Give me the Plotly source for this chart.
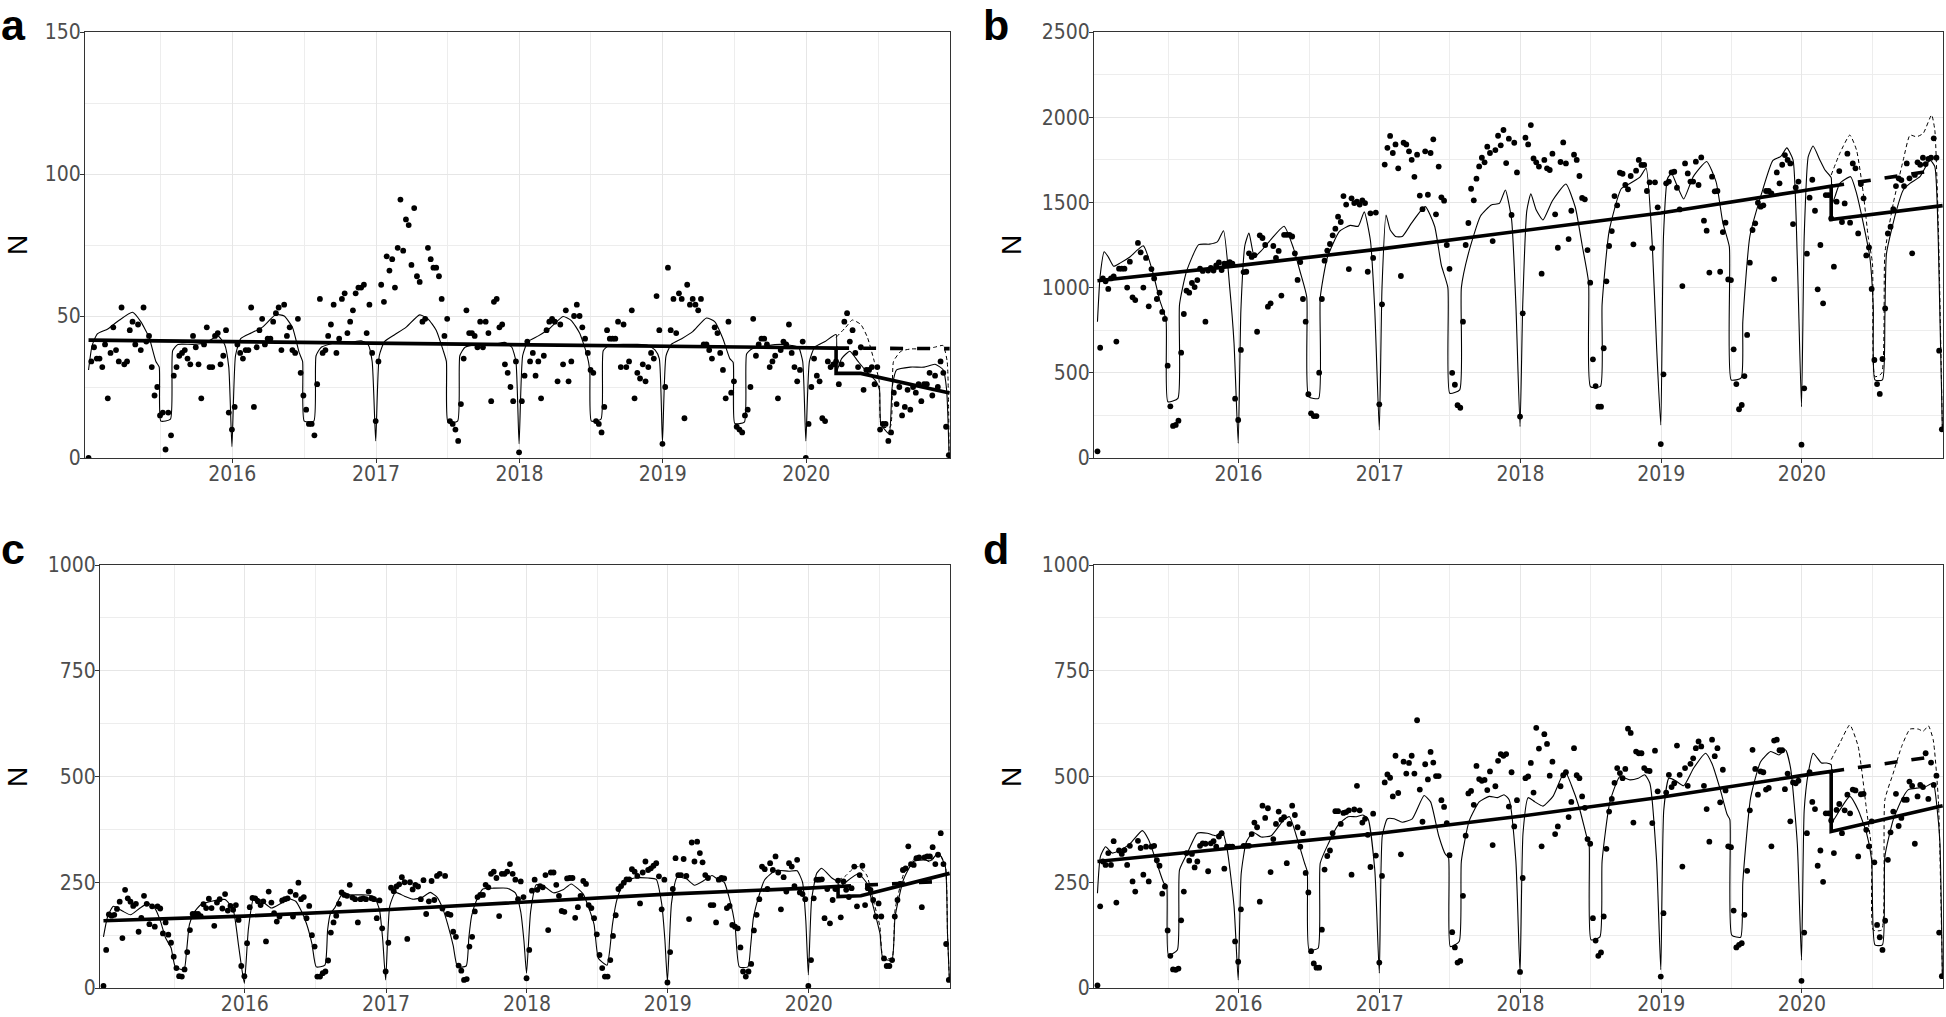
import pandas as pd
import plotly.graph_objects as go

# ---------------- weekly observed counts (one list per panel and year) ----------------
a_2015 = [0, 34, 39, 35, 35, 32, 40, 21, 37, 46, 38, 34, 53, 33, 34, 45, 48, 40, 47, 38, 53, 41, 43, 32, 22, 25,
          15, 16, 3, 16, 8, 29, 32, 36, 37, 38, 35, 33, 43, 39, 33, 21, 40, 46, 32, 32, 43, 44, 33, 36, 45, 16]
a_2016 = [10, 18, 40, 37, 35, 38, 38, 53, 18, 39, 45, 49, 40, 42, 42, 48, 51, 53, 38, 54, 43, 46, 38, 37, 49, 30,
          22, 17, 12, 12, 8, 26, 56, 37, 38, 43, 47, 54, 37, 42, 56, 58, 44, 48, 52, 58, 60, 60, 61, 44, 54, 37]
a_2017 = [13, 34, 61, 55, 71, 66, 70, 60, 74, 91, 73, 84, 82, 68, 88, 64, 62, 48, 49, 74, 70, 67, 67, 64, 56, 43,
          49, 13, 12, 10, 6, 19, 35, 52, 44, 44, 43, 39, 48, 39, 48, 44, 20, 55, 56, 46, 47, 33, 30, 25, 20, 34]
a_2018 = [2, 20, 29, 41, 34, 37, 29, 34, 21, 36, 45, 48, 49, 48, 27, 47, 33, 52, 27, 34, 50, 54, 50, 46, 42, 37,
          31, 30, 13, 12, 9, 18, 45, 42, 42, 42, 48, 32, 47, 32, 34, 52, 21, 30, 28, 33, 27, 32, 37, 35, 57, 45]
a_2019 = [5, 25, 67, 45, 56, 44, 58, 56, 14, 61, 54, 56, 54, 52, 56, 40, 40, 38, 35, 46, 44, 37, 31, 21, 48, 23,
          27, 11, 10, 9, 15, 17, 25, 49, 36, 40, 42, 42, 40, 32, 34, 36, 21, 38, 41, 40, 47, 37, 32, 27, 31, 41]
a_2020 = [0, 12, 25, 35, 29, 27, 14, 13, 34, 32, 33, 34, 26, 33, 48, 51, 41, 45, 37, 32, 39, 24, 31, 31, 32, 26,
          32, 10, 12, 12, 6, 9, 23, 19, 25, 15, 18, 24, 17, 25, 23, 26, 20, 26, 26, 30, 22, 29, 25, 34, 30, 11, 1]

b_2015 = [39, 647, 1054, 1037, 992, 1054, 1066, 683, 1111, 1111, 1111, 1000, 1152, 943, 927, 1262, 1207, 1000,
          1174, 890, 1109, 1054, 933, 970, 857, 816, 542, 303, 188, 194, 219, 618, 845, 982, 970, 1027, 1003,
          1044, 1111, 1098, 800, 1100, 1115, 1100, 1130, 1148, 1103, 1140, 1140, 1150, 1140, 348]
b_2016 = [223, 634, 1091, 1093, 1201, 1180, 1190, 741, 1307, 1291, 1250, 888, 908, 1244, 1174, 1215, 953, 1310,
          1310, 1310, 1300, 1200, 1045, 1150, 933, 800, 374, 262, 246, 246, 501, 933, 1158, 1217, 1256, 1307,
          1346, 1416, 1385, 1537, 1487, 1109, 1524, 1496, 1504, 1487, 1512, 1496, 1093, 1436, 1174, 1440]
b_2017 = [315, 902, 1722, 1820, 1890, 1790, 1840, 1700, 1068, 1850, 1840, 1800, 1750, 1650, 1780, 1540, 1460,
          1800, 1545, 1790, 1870, 1430, 1710, 1530, 1510, 1250, 1110, 500, 430, 310, 295, 800, 1250, 1379, 1580,
          1512, 1639, 1711, 1762, 1735, 1827, 1790, 1273, 1807, 1891, 1835, 1925, 1731, 1874, 1426, 1850, 1676]
b_2018 = [243, 849, 1880, 1840, 1954, 1758, 1735, 1710, 1082, 1749, 1700, 1690, 1786, 1430, 1234, 1737, 1852,
          1729, 1285, 1451, 1780, 1749, 1655, 1526, 1518, 1220, 1029, 579, 422, 301, 301, 644, 1037, 1244, 1332,
          1537, 1483, 1674, 1668, 1602, 1577, 1655, 1254, 1686, 1749, 1720, 1720, 1567, 1618, 1232, 1618, 1471]
b_2019 = [82, 491, 1612, 1622, 1676, 1680, 1586, 1459, 1009, 1729, 1670, 1622, 1622, 1739, 1602, 1764, 1393,
          1334, 1088, 1651, 1565, 1567, 1093, 1326, 1381, 1048, 1044, 638, 434, 286, 311, 481, 722, 1146, 1338,
          1377, 1498, 1475, 1483, 1567, 1567, 1553, 1050, 1676, 1612, 1721, 1778, 1749, 1729, 1373, 1588, 1622]
b_2020 = [78, 409, 1199, 1528, 1633, 1451, 990, 1250, 908, 1543, 1543, 1406, 1123, 1504, 1684, 1385, 1494, 1786,
          1381, 1729, 1700, 1318, 1608, 1524, 1189, 1236, 992, 575, 434, 376, 581, 878, 1318, 1357, 1461, 1596,
          1641, 1631, 1596, 1729, 1641, 1201, 1661, 1735, 1721, 1762, 1725, 1755, 1762, 1876, 1762, 630, 168]

c_2015 = [5, 90, 174, 171, 173, 187, 204, 118, 232, 212, 204, 194, 199, 133, 166, 218, 199, 151, 193, 145, 193,
          188, 129, 155, 126, 107, 74, 47, 28, 27, 44, 85, 137, 175, 175, 175, 170, 198, 189, 211, 189, 147, 202,
          210, 188, 222, 183, 194, 185, 196, 161, 52]
c_2016 = [28, 106, 191, 213, 212, 205, 196, 205, 110, 228, 202, 177, 157, 169, 207, 210, 212, 228, 169, 220, 249,
          210, 215, 165, 194, 125, 98, 27, 27, 35, 39, 65, 131, 155, 171, 199, 226, 220, 218, 244, 214, 210, 155,
          210, 212, 210, 228, 212, 210, 165, 207, 141]
c_2017 = [39, 107, 237, 229, 240, 245, 262, 250, 116, 250, 233, 244, 240, 210, 255, 175, 205, 253, 208, 265, 270,
          188, 265, 175, 173, 133, 121, 53, 41, 19, 21, 98, 121, 181, 215, 220, 220, 244, 238, 270, 275, 260, 170,
          270, 270, 275, 293, 270, 256, 210, 252, 215]
c_2018 = [23, 90, 230, 256, 232, 241, 238, 267, 137, 273, 273, 244, 218, 182, 180, 259, 260, 260, 166, 191, 218,
          253, 246, 196, 189, 165, 127, 78, 47, 27, 27, 66, 123, 172, 234, 241, 249, 257, 257, 281, 275, 265, 200,
          273, 299, 279, 283, 289, 295, 264, 186, 256]
c_2019 = [13, 85, 234, 307, 267, 267, 305, 265, 163, 344, 299, 346, 319, 297, 267, 260, 196, 196, 155, 256, 260,
          259, 189, 194, 149, 145, 141, 96, 39, 27, 39, 57, 136, 173, 210, 287, 281, 234, 295, 279, 311, 273, 186,
          262, 228, 295, 287, 241, 303, 226, 222, 210]
c_2020 = [5, 66, 212, 256, 256, 257, 165, 234, 153, 208, 234, 254, 167, 252, 232, 215, 236, 287, 193, 267, 289,
          196, 236, 232, 208, 169, 200, 169, 70, 52, 52, 66, 169, 208, 246, 279, 283, 335, 293, 291, 307, 309, 191,
          309, 311, 311, 333, 293, 315, 366, 293, 104, 19]

d_2015 = [6, 193, 299, 291, 319, 291, 347, 202, 325, 317, 326, 291, 336, 252, 228, 348, 331, 268, 334, 252, 334,
          336, 302, 289, 223, 240, 136, 76, 44, 43, 46, 160, 228, 319, 301, 317, 285, 299, 336, 342, 341, 276, 342,
          347, 334, 358, 366, 282, 334, 334, 334, 110]
d_2016 = [62, 186, 336, 336, 336, 364, 391, 380, 204, 431, 402, 425, 274, 352, 388, 417, 398, 404, 295, 388, 431,
          409, 380, 334, 366, 272, 226, 87, 58, 48, 48, 138, 280, 312, 325, 366, 418, 418, 388, 414, 416, 420, 268,
          422, 478, 420, 391, 400, 362, 286, 412, 313]
d_2017 = [60, 265, 486, 505, 497, 453, 549, 461, 316, 535, 507, 532, 549, 507, 633, 469, 393, 529, 493, 558, 533,
          501, 501, 444, 428, 390, 314, 132, 96, 60, 64, 218, 360, 460, 466, 433, 525, 494, 490, 492, 468, 512, 338,
          477, 537, 553, 549, 553, 429, 510, 382, 444]
d_2018 = [38, 260, 496, 500, 532, 462, 615, 566, 335, 600, 577, 502, 535, 364, 382, 477, 503, 510, 404, 440, 567,
          503, 496, 453, 426, 352, 341, 165, 112, 76, 84, 169, 329, 417, 447, 485, 520, 508, 496, 518, 613, 603, 391,
          559, 555, 555, 520, 514, 513, 390, 561, 465]
d_2019 = [27, 177, 462, 504, 475, 484, 573, 504, 287, 520, 478, 530, 543, 567, 583, 571, 478, 423, 346, 587, 548,
          567, 439, 516, 467, 335, 333, 183, 96, 102, 106, 173, 277, 420, 563, 518, 457, 512, 510, 469, 473, 335, 585,
          587, 562, 562, 470, 507, 394, 486, 484, 490]
d_2020 = [17, 131, 366, 510, 440, 423, 289, 325, 251, 413, 413, 396, 319, 421, 435, 366, 420, 457, 413, 469, 467,
          311, 458, 459, 374, 335, 394, 297, 149, 120, 90, 159, 303, 368, 417, 459, 383, 402, 445, 445, 488, 478, 341,
          453, 480, 475, 555, 447, 533, 480, 502, 131, 28]

# ---------------- fitted seasonal model (thin line), knots in weeks after 31 Dec of previous year ----------------
A_FIT_WEEKS = [0, 1.3, 3.2, 7, 11, 16, 19, 22, 24.5, 25.7, 26.3, 29.8, 30.6, 32.5, 38, 43, 47, 49.5, 51]
a_fit_2015 = [31, 39.6, 43.7, 45.4, 48.4, 51.3, 48, 42.5, 34, 32, 13, 13.7, 37.8, 40, 40, 40.7, 43, 40, 32]
a_fit_2016 = [4, 36, 42, 44, 46, 50.5, 50, 46, 37, 34, 13, 13, 36, 39, 40.7, 40.7, 41.3, 40, 34]
a_fit_2017 = [6, 36, 41, 43.5, 46, 50.4, 49, 45, 38, 34, 12.6, 13, 36, 39, 40, 40, 40.7, 39, 34]
a_fit_2018 = [5, 36, 41, 43, 45.5, 49.8, 48.4, 44, 37, 31, 13, 13.7, 37.8, 39.5, 40, 40, 39.6, 38, 35]
a_fit_2019 = [5.5, 36, 40, 42, 44.5, 49.3, 48, 42, 35, 33.7, 12.2, 12.6, 36.6, 38.4, 39.5, 40, 39.6, 39, 34]
a_fit20_weeks = [0, 1.3, 3.2, 7, 11]
a_fit_2020 = [6, 34, 39, 41, 43.5]
a_post_weeks = [11, 13, 16, 19, 22, 25.5, 26.8, 27.3, 30.3, 31.4, 33, 38, 43, 47, 50, 51.2, 52.1]
a_post_2020 = [30, 35, 37.6, 34, 30.5, 27, 24, 12, 8.5, 25, 31, 32, 32, 33, 31, 24, 1]
a_cf_weeks = [11, 14.5, 16.9, 20, 22.4, 24.9, 26.7, 27.5, 30.7, 31.9, 34.6, 38.3, 43.2, 46.8, 49.9, 51.4, 52.1]
a_cf_2020 = [42.5, 46, 48.6, 47, 42.5, 34, 27, 11, 11, 34, 37.6, 38.4, 38.4, 39, 39.6, 34, 1]

B_FIT_WEEKS = [0, 1, 2.5, 4, 6, 8.5, 12, 17, 20.5, 23, 25.4, 26.1, 29.8, 30.4, 33, 37.5, 41.5, 44.5, 46.7, 49, 50.6]
b_fit_2015 = [800, 1070, 1210, 1180, 1125, 1145, 1180, 1245, 1090, 930, 810, 330, 350, 900, 1095, 1252, 1255, 1270, 1334, 1000, 673]
b_fit_2016 = [86, 869, 1250, 1320, 1181, 1215, 1280, 1360, 1230, 1090, 945, 360, 350, 940, 1175, 1330, 1365, 1360, 1445, 1275, 869]
b_fit_2017 = [164, 1000, 1426, 1340, 1300, 1300, 1380, 1475, 1360, 1130, 1000, 380, 400, 1000, 1200, 1420, 1485, 1494, 1573, 1400, 900]
b_fit_2018 = [184, 900, 1450, 1550, 1455, 1397, 1510, 1608, 1470, 1250, 1030, 418, 420, 900, 1330, 1580, 1618, 1650, 1700, 1250, 650]
b_fit_2019 = [194, 1300, 1640, 1670, 1600, 1520, 1650, 1740, 1620, 1380, 1240, 458, 470, 800, 1300, 1560, 1745, 1770, 1820, 1750, 1162]
b_fit20_weeks = [0, 1, 2.5, 4.3, 6.8, 8.7, 11]
b_fit_2020 = [301, 1300, 1768, 1831, 1749, 1690, 1645]
b_post_weeks = [11, 12.4, 14.2, 18.2, 20.4, 22.9, 25.3, 26.6, 27.2, 30, 30.9, 31.5, 35.2, 37.7, 40.2, 43.9, 47.6, 49.4, 50.7, 52.2]
b_post_2020 = [1475, 1534, 1612, 1651, 1553, 1377, 1181, 888, 458, 458, 830, 1201, 1455, 1573, 1612, 1651, 1749, 1710, 1260, 164]
b_cf_weeks = [11, 14.2, 17.9, 20.4, 22.9, 24.7, 26.3, 27.2, 29.7, 30.9, 34, 37.7, 40.2, 42.6, 45.1, 48.2, 49.4, 50.7, 52.2]
b_cf_2020 = [1661, 1788, 1895, 1807, 1553, 1299, 1142, 477, 497, 1201, 1494, 1749, 1895, 1885, 1905, 2013, 1924, 1357, 164]

C_FIT_WEEKS = [0, 1.5, 3.6, 7, 10, 13.5, 16.5, 19, 21, 23, 25, 26.6, 29.8, 30.8, 31.8, 33.5, 36, 40, 45, 48, 50, 51.2]
c_fit_2015 = [121, 168, 193, 182, 173, 189, 200, 189, 160, 118, 95, 50, 43, 90, 150, 178, 197, 205, 209, 185, 100, 45]
c_fit_2016 = [11, 140, 216, 203, 189, 200, 211, 205, 183, 152, 105, 50, 54, 137, 175, 190, 220, 220, 220, 216, 185, 114]
c_fit_2017 = [19, 193, 226, 217, 210, 214, 226, 215, 190, 150, 100, 50, 52, 120, 170, 205, 234, 236, 236, 225, 180, 110]
c_fit_2018 = [35, 180, 244, 238, 225, 232, 246, 235, 222, 190, 150, 70, 54, 90, 150, 210, 250, 260, 260, 257, 200, 114]
c_fit_2019 = [15, 200, 262, 258, 243, 254, 266, 255, 250, 210, 150, 50, 50, 100, 165, 210, 256, 278, 276, 277, 250, 160]
c_fit20_weeks = [0, 1.2, 3.1, 4.9, 8.7, 11]
c_fit_2020 = [31, 208, 271, 283, 260, 250]
c_post_weeks = [11, 13.6, 18.5, 21.6, 24, 26.5, 27.6, 30.9, 32.1, 35.2, 38.9, 42.6, 45.1, 48.2, 50.7, 51.5, 52.2]
c_post_2020 = [235, 249, 270, 248, 193, 129, 70, 66, 169, 256, 299, 303, 301, 319, 287, 129, 19]
c_cf_weeks = [11, 13.6, 16, 18.5, 21.6, 24, 26.5, 27.6, 30.9, 32.1, 35.2, 38.9, 42.6, 45.1, 48.2, 50.7, 51.5, 52.2]
c_cf_2020 = [255, 264, 279, 287, 267, 208, 145, 74, 70, 185, 268, 303, 305, 298, 319, 290, 129, 19]

D_FIT_WEEKS = [0, 1.1, 3, 5.5, 8.5, 12.2, 16.6, 19, 22, 24.6, 25.6, 26.3, 29.6, 30.4, 33.3, 37, 40.7, 43.8, 46.2, 48.1, 50.6]
d_fit_2015 = [224, 311, 334, 319, 326, 342, 372, 350, 295, 248, 244, 78, 90, 279, 319, 366, 366, 360, 370, 326, 193]
d_fit_2016 = [19, 270, 345, 368, 357, 360, 395, 405, 350, 295, 275, 90, 94, 295, 340, 385, 405, 405, 409, 400, 280]
d_fit_2017 = [35, 360, 400, 400, 392, 400, 455, 440, 360, 315, 311, 98, 110, 300, 395, 440, 453, 450, 457, 445, 300]
d_fit_2018 = [35, 366, 450, 440, 430, 453, 513, 480, 425, 360, 338, 114, 121, 300, 440, 500, 492, 496, 504, 484, 300]
d_fit_2019 = [43, 420, 496, 490, 478, 520, 555, 530, 470, 410, 398, 125, 120, 250, 450, 535, 559, 551, 563, 520, 340]
d_fit20_weeks = [0, 1, 2.5, 4.3, 7.4, 9.3, 11]
d_fit_2020 = [66, 420, 508, 555, 532, 532, 528]
d_post_weeks = [11, 14.2, 17.9, 21, 24.1, 26, 27.2, 30, 30.9, 34, 37.1, 39.6, 43.3, 45.7, 48.8, 50.3, 51.3, 52.2]
d_post_2020 = [390, 421, 453, 421, 366, 303, 102, 102, 311, 398, 445, 469, 473, 475, 484, 421, 342, 27]
d_cf_weeks = [11, 14.2, 17.9, 21, 24.1, 26, 26.6, 29.7, 30.9, 34, 37.1, 40.2, 43.3, 45.1, 47, 48.8, 50.7, 52.2]
d_cf_2020 = [540, 579, 622, 571, 421, 327, 137, 137, 445, 508, 571, 612, 612, 607, 620, 587, 445, 27]

# ---------------- segmented trend (thick) and counterfactual trend (thick dashed) ----------------
TREND_DATES = ['2014-12-31', '2015-12-31', '2016-12-31', '2017-12-31', '2018-12-31', '2019-12-31', '2020-03-17']
a_trend_dates = ['2014-12-31', '2020-03-17', '2020-03-17', '2020-05-19', '2020-12-31']
a_trend = [41.5, 38.7, 29.8, 29.8, 22.9]
b_trend_dates = TREND_DATES + ['2020-03-17', '2020-12-31']
b_trend = [1040, 1129, 1226, 1330, 1438, 1567, 1595, 1400, 1481]
c_trend_dates = TREND_DATES + ['2020-03-17', '2020-05-15', '2020-12-31']
c_trend = [159, 170, 185, 204, 222, 236, 240, 216, 218, 271]
d_trend_dates = TREND_DATES + ['2020-03-17', '2020-12-31']
d_trend = [299, 332, 366, 406, 451, 502, 512, 370, 431]

a_cf_trend_dates = ['2020-03-17', '2020-12-31']
a_cf_trend = [38.7, 38.5]
b_cf_trend_dates = ['2020-03-17', '2020-11-30']
b_cf_trend = [1595, 1684]
c_cf_trend_dates = ['2020-03-17', '2020-12-12']
c_cf_trend = [240, 252]
d_cf_trend_dates = ['2020-03-17', '2020-11-30']
d_cf_trend = [512, 546]

YEARS = [2015, 2016, 2017, 2018, 2019, 2020]
X_TICK_LABELS = ['2016', '2017', '2018', '2019', '2020']


def year_start(year):
    return pd.Timestamp(f"{year - 1}-12-31")


def week_dates(year, n):
    return list(pd.date_range(year_start(year), periods=n, freq="7D"))


def knot_dates(year, weeks):
    s = year_start(year)
    return [s + pd.Timedelta(hours=round(w * 7 * 24)) for w in weeks]


# letter: (text, left px, top px of the text box)
panels = [
    dict(pts=[a_2015, a_2016, a_2017, a_2018, a_2019, a_2020], W=A_FIT_WEEKS,
         fits=[a_fit_2015, a_fit_2016, a_fit_2017, a_fit_2018, a_fit_2019],
         fit20=(a_fit20_weeks, a_fit_2020), post=(a_post_weeks, a_post_2020), cf=(a_cf_weeks, a_cf_2020),
         trend=(a_trend_dates, a_trend), cft=(a_cf_trend_dates, a_cf_trend),
         yr=[0, 150], yt=[0, 50, 100, 150], ym=[25, 75, 125],
         xd=[85, 950], yd=[32, 458], letter=('a', 0, 0), ny=245, nx=17),
    dict(pts=[b_2015, b_2016, b_2017, b_2018, b_2019, b_2020], W=B_FIT_WEEKS,
         fits=[b_fit_2015, b_fit_2016, b_fit_2017, b_fit_2018, b_fit_2019],
         fit20=(b_fit20_weeks, b_fit_2020), post=(b_post_weeks, b_post_2020), cf=(b_cf_weeks, b_cf_2020),
         trend=(b_trend_dates, b_trend), cft=(b_cf_trend_dates, b_cf_trend),
         yr=[0, 2500], yt=[0, 500, 1000, 1500, 2000, 2500], ym=[250, 750, 1250, 1750, 2250],
         xd=[1094, 1943], yd=[32, 458], letter=('b', 982, 0), ny=245, nx=1011),
    dict(pts=[c_2015, c_2016, c_2017, c_2018, c_2019, c_2020], W=C_FIT_WEEKS,
         fits=[c_fit_2015, c_fit_2016, c_fit_2017, c_fit_2018, c_fit_2019],
         fit20=(c_fit20_weeks, c_fit_2020), post=(c_post_weeks, c_post_2020), cf=(c_cf_weeks, c_cf_2020),
         trend=(c_trend_dates, c_trend), cft=(c_cf_trend_dates, c_cf_trend),
         yr=[0, 1000], yt=[0, 250, 500, 750, 1000], ym=[125, 375, 625, 875],
         xd=[100, 950], yd=[565, 988], letter=('c', 0, 524), ny=777, nx=17),
    dict(pts=[d_2015, d_2016, d_2017, d_2018, d_2019, d_2020], W=D_FIT_WEEKS,
         fits=[d_fit_2015, d_fit_2016, d_fit_2017, d_fit_2018, d_fit_2019],
         fit20=(d_fit20_weeks, d_fit_2020), post=(d_post_weeks, d_post_2020), cf=(d_cf_weeks, d_cf_2020),
         trend=(d_trend_dates, d_trend), cft=(d_cf_trend_dates, d_cf_trend),
         yr=[0, 1000], yt=[0, 250, 500, 750, 1000], ym=[125, 375, 625, 875],
         xd=[1094, 1943], yd=[565, 988], letter=('d', 982, 524), ny=777, nx=1011),
]

W_PX, H_PX = 1946, 1017
TICK_FONT = dict(family="Liberation Sans Narrow, Arial Narrow, DejaVu Sans Condensed, Liberation Sans, Arial",
                 size=21, color="#4d4d4d")

fig = go.Figure()
annotations = []
layout_axes = {}

for i, p in enumerate(panels, start=1):
    xa = "x" if i == 1 else f"x{i}"
    ya = "y" if i == 1 else f"y{i}"

    # observed points
    px_, py_ = [], []
    for yr_, vals in zip(YEARS, p["pts"]):
        px_ += week_dates(yr_, len(vals))
        py_ += vals
    fig.add_trace(go.Scatter(x=px_, y=py_, mode="markers", xaxis=xa, yaxis=ya,
                             marker=dict(color="black", size=5.8, line=dict(width=0)),
                             showlegend=False, hoverinfo="skip"))

    # fitted model thin line
    fx, fy = [], []
    for yr_, vals in zip(YEARS[:5], p["fits"]):
        fx += knot_dates(yr_, p["W"])
        fy += vals
    fx += knot_dates(2020, p["fit20"][0])
    fy += p["fit20"][1]
    fx += knot_dates(2020, p["post"][0])
    fy += p["post"][1]
    fig.add_trace(go.Scatter(x=fx, y=fy, mode="lines", xaxis=xa, yaxis=ya,
                             line=dict(color="black", width=1.1, shape="spline", smoothing=0.5),
                             showlegend=False, hoverinfo="skip"))

    # counterfactual thin dashed line
    fig.add_trace(go.Scatter(x=knot_dates(2020, p["cf"][0]), y=p["cf"][1], mode="lines", xaxis=xa, yaxis=ya,
                             line=dict(color="black", width=1, dash="4px,3px", shape="spline", smoothing=0.5),
                             showlegend=False, hoverinfo="skip"))

    # trend thick
    fig.add_trace(go.Scatter(x=p["trend"][0], y=p["trend"][1], mode="lines", xaxis=xa, yaxis=ya,
                             line=dict(color="black", width=3.6),
                             showlegend=False, hoverinfo="skip"))
    fig.add_trace(go.Scatter(x=p["cft"][0], y=p["cft"][1], mode="lines", xaxis=xa, yaxis=ya,
                             line=dict(color="black", width=3.6, dash="13px,14px"),
                             showlegend=False, hoverinfo="skip"))

    xkey = "xaxis" if i == 1 else f"xaxis{i}"
    ykey = "yaxis" if i == 1 else f"yaxis{i}"
    layout_axes[xkey] = dict(
        type="date", range=["2014-12-22", "2021-01-01"],
        domain=[p["xd"][0] / W_PX, p["xd"][1] / W_PX], anchor=ya,
        tickmode="array", tickvals=[f"{y}-01-01" for y in range(2016, 2021)], ticktext=X_TICK_LABELS,
        showgrid=True, gridcolor="#e6e6e6", gridwidth=1.3,
        minor=dict(tickvals=[f"{y}-07-02" for y in range(2015, 2021)], showgrid=True,
                   gridcolor="#ededed", gridwidth=0.8, ticks=""),
        showline=True, mirror=True, linecolor="#333333", linewidth=1.1,
        ticks="outside", ticklen=4, tickcolor="#333333", tickwidth=1.1, ticklabelstandoff=-7,
        tickfont=TICK_FONT, zeroline=False, fixedrange=True, automargin=False)
    layout_axes[ykey] = dict(
        range=p["yr"], domain=[1 - p["yd"][1] / H_PX, 1 - p["yd"][0] / H_PX], anchor=xa,
        tickmode="array", tickvals=p["yt"], ticktext=[str(v) for v in p["yt"]],
        showgrid=True, gridcolor="#e6e6e6", gridwidth=1.3,
        minor=dict(tickvals=p["ym"], showgrid=True, gridcolor="#ededed", gridwidth=0.8, ticks=""),
        showline=True, mirror=True, linecolor="#333333", linewidth=1.1,
        ticks="outside", ticklen=4, tickcolor="#333333", tickwidth=1.1, ticklabelstandoff=-5,
        tickfont=TICK_FONT, zeroline=False, fixedrange=True, automargin=False)

    letter, lx, ly = p["letter"]
    annotations.append(dict(text=f"<b>{letter}</b>", x=lx / W_PX, y=1 - ly / H_PX, xref="paper", yref="paper",
                            xanchor="left", yanchor="top", showarrow=False, borderpad=0,
                            font=dict(family="Liberation Sans, Arial", size=43, color="black")))
    annotations.append(dict(text="N", x=p["nx"] / W_PX, y=1 - p["ny"] / H_PX, xref="paper", yref="paper",
                            xanchor="center", yanchor="middle", showarrow=False, textangle=-90,
                            font=dict(family="Liberation Sans, Arial", size=28, color="black")))

fig.update_layout(
    autosize=True, margin=dict(l=0, r=0, t=0, b=0, pad=0, autoexpand=False),
    paper_bgcolor="white", plot_bgcolor="white", showlegend=False,
    annotations=annotations, **layout_axes)

PIN_SCRIPT = (
    "document.documentElement.style.margin='0';document.body.style.margin='0';document.body.style.padding='0';"
    "document.documentElement.style.overflow='hidden';document.body.style.overflow='hidden';"
    "var gd=document.getElementById('{plot_id}');gd.style.position='fixed';gd.style.top='0px';gd.style.left='0px';"
    "gd.style.width='100vw';gd.style.height='100vh';Plotly.Plots.resize(gd);"
)

fig.write_html("out.html", config={"displayModeBar": False, "responsive": True},
               default_width="100vw", default_height="100vh", post_script=PIN_SCRIPT)
